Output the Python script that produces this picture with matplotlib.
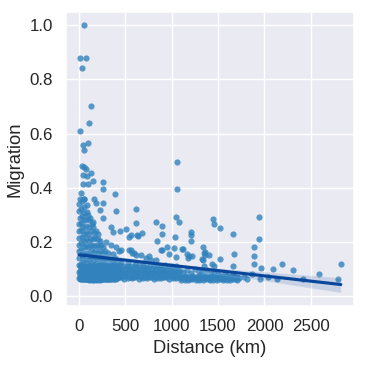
import matplotlib
matplotlib.use("Agg")
import matplotlib.pyplot as plt
import seaborn as sns

# distance between the two places (km) and the migration share
distance_km = [
    # dense block close to zero distance
    4, 6, 3, 7, 5, 4, 8, 6, 5, 9, 7, 6,
    28, 31, 26, 33, 29, 27, 32, 30, 25, 34, 29, 31, 27,
    52, 55, 58, 50, 54, 57, 53, 56, 51, 59, 55, 52, 60,
    78, 81, 76, 83, 79, 77, 84, 80, 75, 82, 86, 90,
    104, 107, 102, 109, 105, 101, 108, 103, 110, 106, 99,
    128, 131, 126, 133, 129, 135, 127, 132, 138, 125,
    152, 155, 150, 158, 153, 156, 151, 160, 154, 149,
    178, 181, 176, 184, 179, 183, 177, 186,
    204, 207, 202, 209, 205, 212, 203, 210,
    230, 233, 228, 236, 231, 238, 229,
    256, 259, 254, 262, 257, 265,
    282, 285, 280, 288, 284,
    308, 311, 306, 314, 318,
    334, 337, 332, 340,
    360, 363, 358, 366, 370,
    386, 389, 384, 392,
    # extra low pairs inside the block
    12, 12, 12, 12, 20, 20, 20, 20, 38, 38, 38, 38, 45, 45, 45, 45,
    65, 65, 65, 65, 70, 70, 70, 70, 92, 92, 92, 92, 97, 97, 97, 97,
    115, 115, 115, 115, 120, 120, 120, 120, 142, 142, 142, 142, 147, 147, 147, 147,
    165, 165, 165, 165, 170, 170, 170, 170, 192, 192, 192, 192, 197, 197, 197, 197,
    218, 218, 218, 218, 222, 222, 222, 222, 245, 245, 245, 245, 250, 250, 250, 250,
    270, 270, 270, 270, 275, 275, 275, 275, 296, 296, 296, 296, 300, 300, 300, 300,
    322, 322, 322, 322, 326, 326, 326, 326, 348, 348, 348, 348, 352, 352, 352, 352,
    375, 375, 375, 375, 380, 380, 380, 380, 398, 398, 398, 398,
    86, 86, 86, 86, 86, 86, 94, 94, 94, 94, 94, 94, 112, 112, 112, 112, 112, 112,
    118, 118, 118, 118, 118, 118, 124, 124, 124, 124, 124, 124, 138, 138, 138, 138, 138, 138,
    145, 145, 145, 145, 145, 145, 160, 160, 160, 160, 160, 160, 168, 168, 168, 168, 168, 168,
    174, 174, 174, 174, 174, 174, 188, 188, 188, 188, 188, 188, 195, 195, 195, 195, 195, 195,
    214, 214, 214, 214, 214, 214, 220, 220, 220, 220, 220, 220, 226, 226, 226, 226, 226, 226,
    240, 240, 240, 240, 240, 240, 248, 248, 248, 248, 248, 248,
    # low band out to ~1100 km
    412, 415, 410, 418, 450, 452, 448, 455, 490, 493, 487,
    530, 528, 534, 536, 570, 573, 567, 610, 612, 607, 615,
    650, 653, 648, 690, 692, 688, 694, 730, 733, 727,
    770, 772, 767, 810, 813, 808, 850, 852, 847, 890, 893, 888,
    930, 932, 927, 970, 973, 968, 1010, 1012, 1007, 1050, 1053, 1048, 1090, 1093,
    430, 430, 430, 470, 470, 470, 510, 510, 510, 550, 550, 550, 590, 590, 590,
    630, 630, 630, 670, 670, 670, 710, 710, 710, 750, 750, 750, 790, 790, 790,
    830, 830, 830, 870, 870, 870, 910, 910, 910, 950, 950, 950, 990, 990, 990,
    1030, 1030, 1030, 1070, 1070, 1070,
    # sparser low band further out
    1120, 1125, 1160, 1165, 1200, 1205, 1240, 1250, 1280, 1290, 1320, 1330,
    1345, 1365, 1380, 1400, 1420, 1440, 1460, 1480, 1500, 1530, 1560, 1580,
    1610, 1640, 1660, 1695, 1730, 1780,
    1105, 1105, 1105, 1140, 1140, 1140, 1180, 1180, 1180, 1215, 1215, 1215,
    1260, 1260, 1260, 1300, 1300, 1300, 1335, 1335, 1335, 1370, 1370, 1370,
    1410, 1410, 1410, 1450, 1450, 1450, 1490, 1490, 1490, 1520, 1520, 1520,
    1550, 1550, 1550, 1600, 1600, 1600, 1630, 1630, 1630, 1665, 1665, 1665,
    1700, 1700, 1700,
    # isolated points
    55, 14, 78, 39, 132, 107, 11, 46, 100, 57, 1060,
    32, 54, 78, 132, 46, 89, 150, 257, 43, 96, 257, 1060, 392, 14, 60,
    167, 185, 264, 399, 228, 621, 257, 621, 828, 899, 1049, 1077,
    353, 364, 442, 506, 685, 638, 542, 892, 846, 1210, 1210, 1210,
    1042, 953, 899, 970, 1024, 1124, 1167, 1184, 1049, 1334, 1345, 1398, 1334,
    1441, 1459, 1524, 1660, 1941, 1944, 1888, 1888, 1891, 1959, 1677, 1660,
    1524, 1360, 1438, 1452, 2094, 2191, 2302, 2412, 2583, 2794, 2822,
    1863, 1816, 1955, 2041, 2131,
    560, 632, 1113, 881, 756, 613, 828, 1173, 1220, 1328, 1363, 560, 595,
    292, 346, 453, 542, 578, 667, 720, 774, 399, 431,
]
migration = [
    0.066, 0.09, 0.115, 0.14, 0.165, 0.19, 0.215, 0.24, 0.265, 0.29, 0.315, 0.34,
    0.07, 0.095, 0.12, 0.145, 0.17, 0.195, 0.22, 0.245, 0.27, 0.295, 0.32, 0.35, 0.38,
    0.064, 0.085, 0.105, 0.13, 0.155, 0.18, 0.205, 0.23, 0.255, 0.28, 0.305, 0.33, 0.36,
    0.068, 0.09, 0.112, 0.135, 0.16, 0.185, 0.21, 0.235, 0.26, 0.285, 0.31, 0.335,
    0.065, 0.088, 0.11, 0.133, 0.157, 0.18, 0.205, 0.23, 0.255, 0.28, 0.30,
    0.07, 0.092, 0.115, 0.14, 0.165, 0.19, 0.215, 0.24, 0.265, 0.29,
    0.066, 0.088, 0.112, 0.135, 0.16, 0.185, 0.21, 0.232, 0.255, 0.275,
    0.07, 0.094, 0.118, 0.142, 0.166, 0.19, 0.215, 0.24,
    0.065, 0.09, 0.113, 0.137, 0.16, 0.185, 0.21, 0.23,
    0.068, 0.093, 0.117, 0.14, 0.165, 0.19, 0.205,
    0.066, 0.09, 0.114, 0.138, 0.16, 0.182,
    0.07, 0.095, 0.118, 0.14, 0.165,
    0.065, 0.09, 0.113, 0.136, 0.158,
    0.068, 0.092, 0.116, 0.138,
    0.066, 0.09, 0.112, 0.134, 0.155,
    0.07, 0.094, 0.117, 0.14,
    0.062, 0.078, 0.094, 0.11, 0.064, 0.08, 0.096, 0.112, 0.063, 0.077, 0.093, 0.108, 0.065, 0.081, 0.097, 0.113,
    0.062, 0.079, 0.095, 0.111, 0.064, 0.08, 0.096, 0.112, 0.063, 0.078, 0.094, 0.109, 0.065, 0.081, 0.097, 0.113,
    0.062, 0.078, 0.094, 0.11, 0.064, 0.08, 0.096, 0.112, 0.063, 0.077, 0.093, 0.108, 0.065, 0.081, 0.097, 0.113,
    0.062, 0.079, 0.095, 0.111, 0.064, 0.08, 0.096, 0.112, 0.063, 0.078, 0.094, 0.109, 0.065, 0.081, 0.097, 0.113,
    0.062, 0.078, 0.094, 0.11, 0.064, 0.08, 0.096, 0.112, 0.063, 0.077, 0.093, 0.108, 0.065, 0.081, 0.097, 0.113,
    0.062, 0.079, 0.095, 0.111, 0.064, 0.08, 0.096, 0.112, 0.063, 0.078, 0.094, 0.109, 0.065, 0.081, 0.097, 0.113,
    0.062, 0.078, 0.094, 0.11, 0.064, 0.08, 0.096, 0.112, 0.063, 0.077, 0.093, 0.108, 0.065, 0.081, 0.097, 0.113,
    0.062, 0.079, 0.095, 0.111, 0.064, 0.08, 0.096, 0.112, 0.063, 0.078, 0.094, 0.109,
    0.062, 0.068, 0.074, 0.08, 0.086, 0.092, 0.063, 0.069, 0.075, 0.081, 0.087, 0.093, 0.061, 0.067, 0.073, 0.079, 0.085, 0.091,
    0.062, 0.068, 0.074, 0.08, 0.086, 0.092, 0.063, 0.069, 0.075, 0.081, 0.087, 0.093, 0.061, 0.067, 0.073, 0.079, 0.085, 0.091,
    0.062, 0.068, 0.074, 0.08, 0.086, 0.092, 0.063, 0.069, 0.075, 0.081, 0.087, 0.093, 0.061, 0.067, 0.073, 0.079, 0.085, 0.091,
    0.062, 0.068, 0.074, 0.08, 0.086, 0.092, 0.063, 0.069, 0.075, 0.081, 0.087, 0.093, 0.061, 0.067, 0.073, 0.079, 0.085, 0.091,
    0.062, 0.068, 0.074, 0.08, 0.086, 0.092, 0.063, 0.069, 0.075, 0.081, 0.087, 0.093, 0.061, 0.067, 0.073, 0.079, 0.085, 0.091,
    0.062, 0.068, 0.074, 0.08, 0.086, 0.092, 0.063, 0.069, 0.075, 0.081, 0.087, 0.093,
    0.066, 0.088, 0.11, 0.128, 0.07, 0.093, 0.115, 0.124, 0.065, 0.087, 0.11,
    0.068, 0.092, 0.113, 0.125, 0.066, 0.089, 0.112, 0.07, 0.093, 0.114, 0.122,
    0.065, 0.088, 0.11, 0.068, 0.091, 0.113, 0.124, 0.066, 0.087, 0.109,
    0.07, 0.092, 0.115, 0.065, 0.089, 0.111, 0.068, 0.09, 0.112, 0.066, 0.088, 0.11,
    0.07, 0.093, 0.114, 0.065, 0.087, 0.11, 0.068, 0.09, 0.112, 0.066, 0.089, 0.11, 0.07, 0.092,
    0.072, 0.086, 0.101, 0.071, 0.085, 0.1, 0.073, 0.087, 0.102, 0.072, 0.086, 0.101, 0.071, 0.085, 0.1,
    0.073, 0.087, 0.102, 0.072, 0.086, 0.101, 0.071, 0.085, 0.1, 0.073, 0.087, 0.102, 0.072, 0.086, 0.101,
    0.071, 0.085, 0.1, 0.073, 0.087, 0.102, 0.072, 0.086, 0.101, 0.071, 0.085, 0.1, 0.073, 0.087, 0.102,
    0.072, 0.086, 0.101, 0.071, 0.085, 0.1,
    0.066, 0.09, 0.07, 0.095, 0.065, 0.085, 0.07, 0.1, 0.066, 0.09, 0.068, 0.09,
    0.11, 0.07, 0.095, 0.065, 0.082, 0.07, 0.09, 0.066, 0.08, 0.07, 0.065, 0.085,
    0.07, 0.066, 0.08, 0.065, 0.066, 0.07,
    0.06, 0.066, 0.072, 0.061, 0.067, 0.073, 0.06, 0.066, 0.072, 0.062, 0.068, 0.074,
    0.06, 0.066, 0.072, 0.061, 0.067, 0.073, 0.06, 0.066, 0.072, 0.062, 0.068, 0.074,
    0.06, 0.066, 0.072, 0.061, 0.067, 0.073, 0.06, 0.066, 0.072, 0.062, 0.068, 0.074,
    0.06, 0.066, 0.072, 0.061, 0.067, 0.073, 0.06, 0.066, 0.072, 0.062, 0.068, 0.074,
    0.06, 0.066, 0.072,
    1.0, 0.88, 0.88, 0.84, 0.70, 0.64, 0.61, 0.556, 0.566, 0.54, 0.495,
    0.48, 0.477, 0.47, 0.456, 0.446, 0.443, 0.424, 0.42, 0.414, 0.414, 0.394, 0.395, 0.377, 0.357, 0.357,
    0.36, 0.344, 0.342, 0.314, 0.318, 0.32, 0.287, 0.271, 0.274, 0.257, 0.293, 0.273,
    0.254, 0.238, 0.242, 0.248, 0.232, 0.222, 0.22, 0.23, 0.205, 0.238, 0.226, 0.205,
    0.218, 0.181, 0.171, 0.157, 0.177, 0.175, 0.157, 0.149, 0.144, 0.183, 0.159, 0.153, 0.135,
    0.285, 0.267, 0.251, 0.229, 0.291, 0.212, 0.183, 0.149, 0.12, 0.102, 0.157, 0.113,
    0.137, 0.161, 0.12, 0.11, 0.10, 0.117, 0.097, 0.065, 0.083, 0.065, 0.12,
    0.08, 0.065, 0.065, 0.07, 0.065,
    0.224, 0.224, 0.174, 0.171, 0.147, 0.153, 0.135, 0.141, 0.149, 0.137, 0.153, 0.171, 0.159,
    0.2, 0.19, 0.171, 0.171, 0.159, 0.153, 0.141, 0.135, 0.183, 0.166,
]

sns.set_theme(style="darkgrid")
plt.rcParams["font.family"] = ["Liberation Sans", "DejaVu Sans"]

fig = plt.figure(figsize=(3.66, 3.66), dpi=100)
ax = fig.add_axes([0.180, 0.164, 0.787, 0.804])

# scatter plus linear fit with its confidence band
sns.regplot(x=distance_km, y=migration, ax=ax, seed=0,
            scatter_kws={"color": "#3182bd", "s": 20, "linewidths": 0},
            line_kws={"color": "#08479a"})

ax.set_xlabel("Distance (km)", fontsize=13.2)
ax.set_ylabel("Migration", fontsize=13.2)
ax.tick_params(labelsize=12.2)
ax.set_xticks([0, 500, 1000, 1500, 2000, 2500])
ax.set_yticks([0.0, 0.2, 0.4, 0.6, 0.8, 1.0])

fig.savefig("out.png", dpi=100)
